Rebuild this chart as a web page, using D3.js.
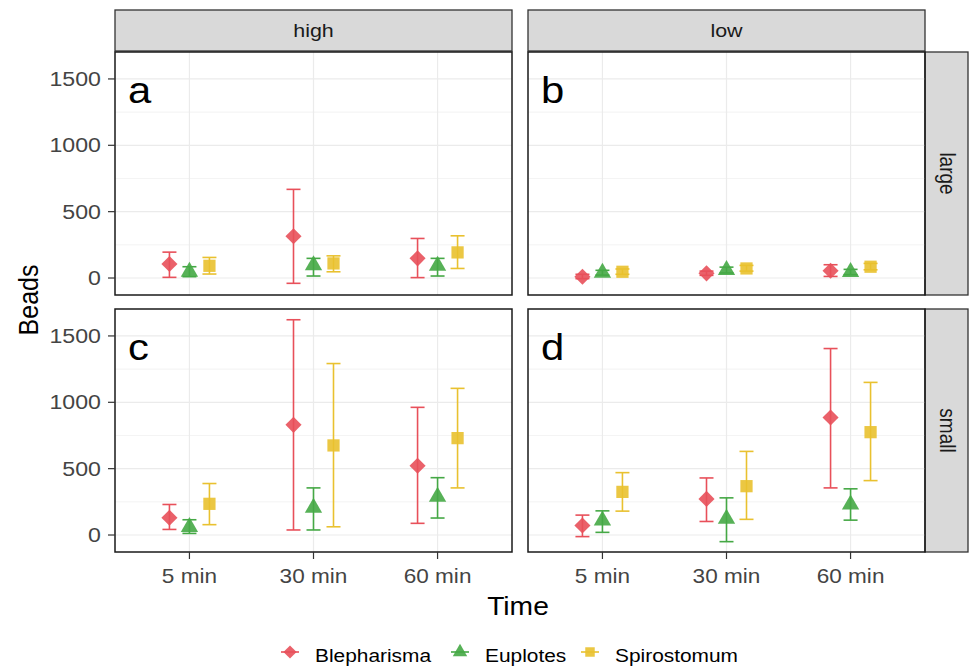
<!DOCTYPE html>
<html>
<head>
<meta charset="utf-8">
<style>
body { margin: 0; background: #fff; }
svg text { font-family: "Liberation Sans", Arial, sans-serif; }
.grid line { stroke: #ebebeb; }
</style>
</head>
<body>
<svg width="970" height="669"></svg>
<script src="https://d3js.org/d3.v7.min.js"></script>
<script>

// data, panels ordered a (high/large), b (low/large), c (high/small), d (low/small), 3 times each
var times = ["5 min", "30 min", "60 min"];
var species = ["Blepharisma", "Euplotes", "Spirostomum"];
var densities = ["high", "low"];
var sizes = ["large", "small"];
var panelLetters = ["a", "b", "c", "d"];
var yTicks = [0, 500, 1000, 1500];
var yMinor = [250, 750, 1250];

var blephMean = [105, 315, 148,  10, 35, 55,   130, 830, 522,   72, 272, 885];
var blephLow  = [  5, -40,   3,  -5, 20, 12,    42,  38,  88,  -12, 102, 355];
var blephHigh = [195, 668, 298,  28, 52, 100,  230, 1622, 962, 150, 430, 1405];

var euplMean = [47,  97,  92,  40, 60, 45,   60, 205, 288,  110, 122, 230];
var euplLow  = [10,  15,  15,  22, 38, 25,   12,  38, 128,   20, -50, 112];
var euplHigh = [85, 148, 148,  58, 82, 65,  115, 355, 432,  182, 280, 348];

var spirMean = [ 92, 110, 193,  47, 72,  85,  235,  675,  730,  325, 368,  775];
var spirLow  = [ 30,  47,  72,  28, 52,  62,   78,   62,  355,  180, 118,  410];
var spirHigh = [155, 167, 318,  68, 95, 110,  388, 1292, 1105,  470, 630, 1150];

var colors = ["#e8505a", "#45a845", "#e9c12f"];
var shapes = [d3.symbolDiamond2, d3.symbolTriangle, d3.symbolSquare];
var sx = 1.13; // the original picture is a bit wider than tall

var means = [blephMean, euplMean, spirMean],
    lows = [blephLow, euplLow, spirLow],
    highs = [blephHigh, euplHigh, spirHigh];

var svg = d3.select("svg");

var panelX = [115, 528], panelW = 397;
var panelY = [52, 309], panelH = 243;

var y = d3.scaleLinear().domain([-128, 1703]);
var dodge = d3.scalePoint().domain(species).range([-20, 20]);

function txt(g, x, yy, s, size, anchor, fill) {
  return g.append("text")
    .attr("transform", "translate(" + x + "," + yy + ") scale(" + sx + ",1)")
    .attr("text-anchor", anchor)
    .attr("font-size", size)
    .attr("fill", fill)
    .text(s);
}

// strips along the top
densities.forEach(function(dn, c) {
  svg.append("rect").attr("x", panelX[c]).attr("y", 10).attr("width", panelW).attr("height", 41)
    .attr("fill", "#d9d9d9").attr("stroke", "#333").attr("stroke-width", 1.3);
  txt(svg, panelX[c] + panelW / 2, 37, dn, 19, "middle", "#1a1a1a");
});

// strips down the right side
sizes.forEach(function(sz, r) {
  svg.append("rect").attr("x", 925).attr("y", panelY[r]).attr("width", 43).attr("height", panelH)
    .attr("fill", "#d9d9d9").attr("stroke", "#333").attr("stroke-width", 1.3);
  svg.append("text")
    .attr("transform", "translate(940," + (panelY[r] + panelH / 2) + ") rotate(90) scale(1," + sx + ")")
    .attr("text-anchor", "middle")
    .attr("font-size", 19)
    .attr("fill", "#1a1a1a")
    .text(sz);
});

sizes.forEach(function(sz, r) {
  densities.forEach(function(dn, c) {
    var p = r * 2 + c;
    var x = d3.scalePoint().domain(times).range([panelX[c], panelX[c] + panelW]).padding(0.6);
    var yy = y.copy().range([panelY[r] + panelH, panelY[r]]);

    var grid = svg.append("g").attr("class", "grid");
    grid.selectAll(".minor").data(yMinor).enter().append("line")
      .attr("x1", panelX[c]).attr("x2", panelX[c] + panelW)
      .attr("y1", yy).attr("y2", yy).attr("stroke-width", 0.6);
    grid.selectAll(".major").data(yTicks).enter().append("line")
      .attr("x1", panelX[c]).attr("x2", panelX[c] + panelW)
      .attr("y1", yy).attr("y2", yy).attr("stroke-width", 1.2);
    grid.selectAll(".vx").data(times).enter().append("line")
      .attr("x1", x).attr("x2", x)
      .attr("y1", panelY[r]).attr("y2", panelY[r] + panelH).attr("stroke-width", 1.2);

    // panel letter
    txt(svg, x.range()[0] + 13, yy(1320), panelLetters[p], 37, "start", "#000");

    species.forEach(function(sp, s) {
      var rows = times.map(function(t, i) {
        return { t: t, m: means[s][p * 3 + i], lo: lows[s][p * 3 + i], hi: highs[s][p * 3 + i] };
      });
      var g = svg.append("g").attr("stroke", colors[s]).attr("fill", colors[s]);
      rows.forEach(function(d) {
        var cx = x(d.t) + dodge(sp);
        g.append("line").attr("x1", cx).attr("x2", cx).attr("y1", yy(d.lo)).attr("y2", yy(d.hi)).attr("stroke-width", 1.6);
        g.append("line").attr("x1", cx - 7).attr("x2", cx + 7).attr("y1", yy(d.lo)).attr("y2", yy(d.lo)).attr("stroke-width", 1.6);
        g.append("line").attr("x1", cx - 7).attr("x2", cx + 7).attr("y1", yy(d.hi)).attr("y2", yy(d.hi)).attr("stroke-width", 1.6);
        g.append("path")
          .attr("d", d3.symbol().type(shapes[s]).size(s == 0 ? 165 : s == 1 ? 130 : 150)())
          .attr("transform", "translate(" + cx + "," + yy(d.m) + ")")
          .attr("stroke", "none").attr("fill-opacity", 0.9);
      });
    });

    svg.append("rect").attr("x", panelX[c]).attr("y", panelY[r]).attr("width", panelW).attr("height", panelH)
      .attr("fill", "none").attr("stroke", "#1a1a1a").attr("stroke-width", 1.5);

    // y axis on the left column
    if (c == 0) {
      yTicks.forEach(function(v) {
        svg.append("line").attr("x1", 108).attr("x2", 115).attr("y1", yy(v)).attr("y2", yy(v))
          .attr("stroke", "#333").attr("stroke-width", 1.2);
        txt(svg, 101, yy(v) + 7, v, 20.5, "end", "#444");
      });
    }
    // x axis on the bottom row
    if (r == 1) {
      times.forEach(function(t) {
        svg.append("line").attr("x1", x(t)).attr("x2", x(t)).attr("y1", 552).attr("y2", 559)
          .attr("stroke", "#333").attr("stroke-width", 1.2);
        txt(svg, x(t), 583, t, 20, "middle", "#444");
      });
    }
  });
});

// axis titles
txt(svg, 518, 615, "Time", 25, "middle", "#000");
svg.append("text")
  .attr("transform", "translate(38,300) rotate(-90) scale(1," + sx + ")")
  .attr("text-anchor", "middle").attr("font-size", 25).attr("fill", "#000")
  .text("Beads");

// legend
var legendX = [290, 460, 590];
species.forEach(function(sp, s) {
  var lg = svg.append("g").attr("transform", "translate(" + legendX[s] + ",652)");
  lg.append("line").attr("x1", -9).attr("x2", 9).attr("stroke", colors[s]).attr("stroke-width", 1.6);
  lg.append("path").attr("d", d3.symbol().type(shapes[s]).size(s == 0 ? 110 : 90)())
    .attr("fill", colors[s]).attr("fill-opacity", 0.9);
  txt(lg, 25, 10, sp, 18.5, "start", "#000");
});

</script>
</body>
</html>
